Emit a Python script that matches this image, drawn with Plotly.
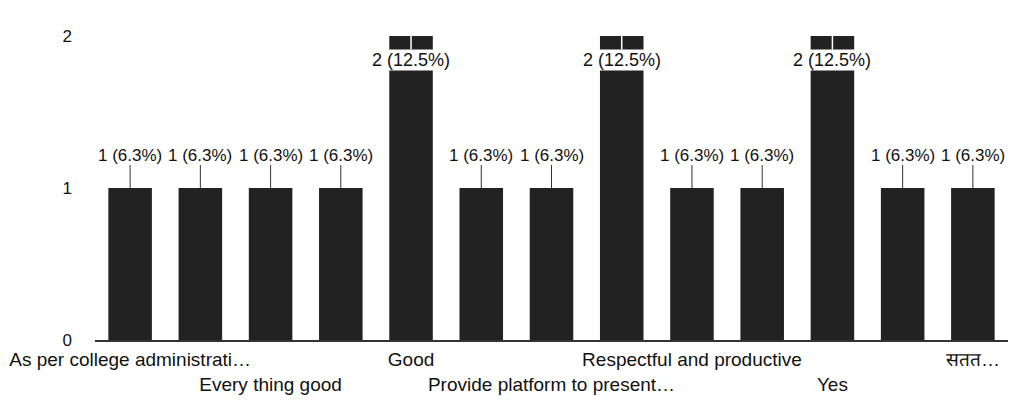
import plotly.graph_objects as go

# 13 responses (alphabetical, as in Google Forms); only every other label is printed
labels = ["As per college administrati…", "", "Every thing good", "", "Good", "",
          "Provide platform to present…", "", "Respectful and productive", "",
          "Yes", "", "सतत…"]
counts = [1, 1, 1, 1, 2, 1, 1, 2, 1, 1, 2, 1, 1]
percents = [6.3, 6.3, 6.3, 6.3, 12.5, 6.3, 6.3, 12.5, 6.3, 6.3, 12.5, 6.3, 6.3]
y_ticks = [0, 1, 2]

x = list(range(len(counts)))
FONT = "Liberation Sans, Arial, sans-serif"

fig = go.Figure(go.Bar(x=x, y=counts, marker_color="#222222",
                       marker_line_width=0, width=0.62, hoverinfo="skip"))

# data labels with leader lines
for i, (c, p) in enumerate(zip(counts, percents)):
    txt = f"{c} ({p:.1f}%)"
    if c == max(counts):
        fig.add_annotation(x=i, y=c, text=txt, showarrow=True, arrowhead=0,
                           arrowwidth=1.5, arrowcolor="white", ax=0, ay=24,
                           bgcolor="white", borderpad=0,
                           font=dict(family=FONT, size=18, color="#111"))
    else:
        fig.add_annotation(x=i, y=c, text=txt, showarrow=True, arrowhead=0,
                           arrowwidth=1, arrowcolor="#333", ax=0, ay=-33,
                           borderpad=0,
                           font=dict(family=FONT, size=17, color="#111"))

# tick labels: shown labels alternate between two rows
tickvals, ticktext = [], []
row = 0
for i, lab in enumerate(labels):
    if lab:
        tickvals.append(i)
        ticktext.append(lab if row % 2 == 0 else "<br>" + lab)
        row += 1

# page body has an 8px margin, so the figure is 1000x388 to fill the 1016x404 window
fig.update_layout(
    width=1000, height=388,
    margin=dict(l=87, r=0, t=28, b=56),
    paper_bgcolor="white", plot_bgcolor="white",
    showlegend=False,
    font=dict(family=FONT, size=16, color="#111"),
    xaxis=dict(range=[-0.5, len(counts) - 0.5], tickvals=tickvals, ticktext=ticktext,
               showgrid=False, zeroline=False, showline=True, linecolor="#333",
               linewidth=2, ticks="", tickangle=0, automargin=False,
               ticklabelstandoff=1,
               tickfont=dict(family=FONT, size=19, color="#111")),
    yaxis=dict(range=[0, 2], tickvals=y_ticks, showgrid=False, zeroline=False,
               showline=False, ticklabelstandoff=22, automargin=False,
               tickfont=dict(family=FONT, size=17, color="#111")),
)

fig.write_html("out.html")
